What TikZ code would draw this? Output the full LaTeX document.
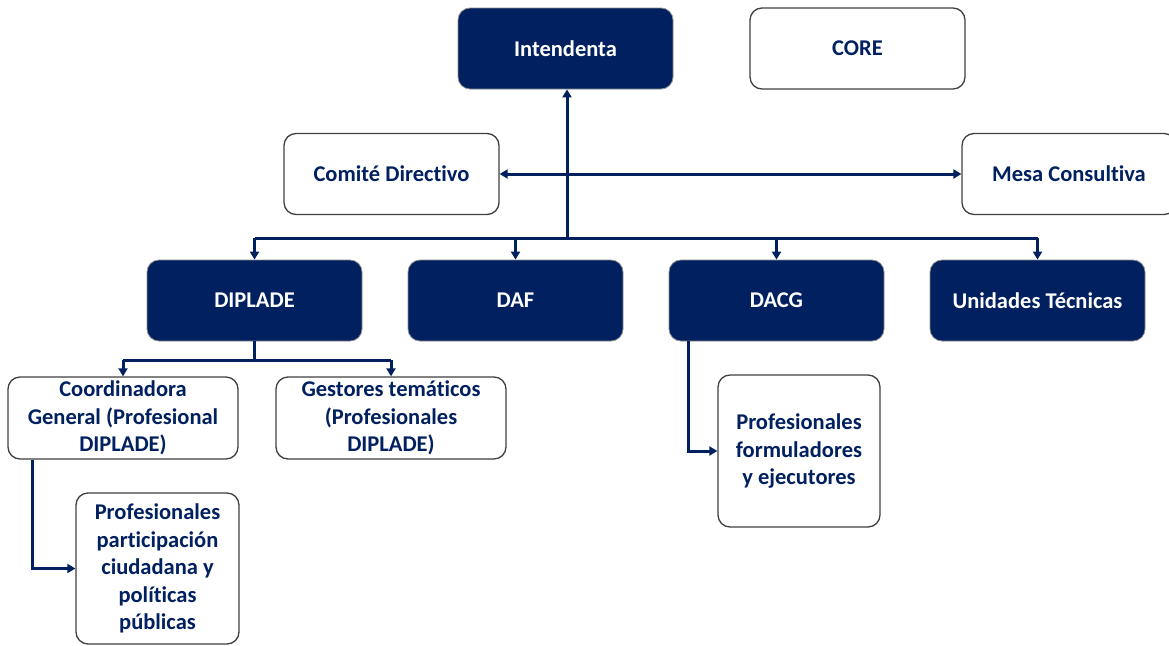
\documentclass[tikz,border=0pt]{standalone}
\usepackage{fontspec}
\setmainfont{Carlito}[Ligatures=NoCommon]
\usetikzlibrary{arrows.meta,calc}
\definecolor{navy}{HTML}{002060}
\definecolor{edge}{HTML}{404040}
\begin{document}
\begin{tikzpicture}[x=1pt,y=-1pt,
  base/.style={rounded corners=12pt, minimum width=215pt, minimum height=81pt,
    align=center, inner sep=2pt,
    font=\fontsize{22.5pt}{27.5pt}\selectfont\bfseries},
  dark/.style={base, fill=navy, draw=edge!60, line width=0.8pt, text=white},
  light/.style={base, fill=white, draw=edge, line width=1.3pt, text=navy},
  wire/.style={draw=navy, line width=3pt},
  arr/.style={wire, -{Triangle[length=8pt,width=9pt]}},
  darr/.style={wire, {Triangle[length=8pt,width=9pt]}-{Triangle[length=8pt,width=9pt]}}]
\useasboundingbox (0,0) rectangle (1169,645);

% top level
\node[dark]  (intend) at (565.5,48.5) {Intendenta};
\node[light] (core)   at (857.5,48.5) {CORE};
\node[light] (comite) at (391.5,174)  {Comité Directivo};
\node[light, minimum width=214pt] (mesa) at (1069,174) {Mesa Consultiva};

% directorates
\node[dark] (diplade) at (254.5,300.5)  {DIPLADE};
\node[dark] (daf)     at (515.5,300.5)  {DAF};
\node[dark] (dacg)    at (776.5,300.5)  {DACG};
\node[dark] (unid)    at (1037.5,300.5) {Unidades Técnicas};

% second level
\node[light, minimum width=230pt, minimum height=82pt] (coord) at (123,418)
  {Coordinadora\\General (Profesional\\DIPLADE)};
\node[light, minimum width=230pt, minimum height=82pt] (gest) at (391,418)
  {Gestores temáticos\\(Profesionales\\DIPLADE)};
\node[light, minimum width=162pt, minimum height=152pt] (form) at (799,451)
  {Profesionales\\formuladores\\y ejecutores};
\node[light, minimum width=163pt, minimum height=151pt] (part) at (157.5,568.5)
  {Profesionales\\participación\\ciudadana y\\políticas\\públicas};

% bus under Intendenta
\coordinate (bus) at (567,238);
\draw[arr] (bus) -- (bus |- intend.south);
\draw[darr] (comite.east) -- (mesa.west);
\draw[wire] (diplade.north |- bus) -- (unid.north |- bus);
\foreach \n in {diplade,daf,dacg,unid}
  \draw[arr] (\n.north |- bus) -- (\n.north);

% DIPLADE branch
\coordinate (dbus) at (254.5,360);
\draw[wire] (diplade.south) -- (dbus);
\draw[wire] (coord.north |- dbus) -- (gest.north |- dbus);
\draw[arr] (coord.north |- dbus) -- (coord.north);
\draw[arr] (gest.north |- dbus) -- (gest.north);

% side branches
\draw[arr] ($(coord.south west)+(25,0)$) |- (part.west);
\draw[arr] ($(dacg.south west)+(20,0)$) |- (form.west);
\end{tikzpicture}
\end{document}
